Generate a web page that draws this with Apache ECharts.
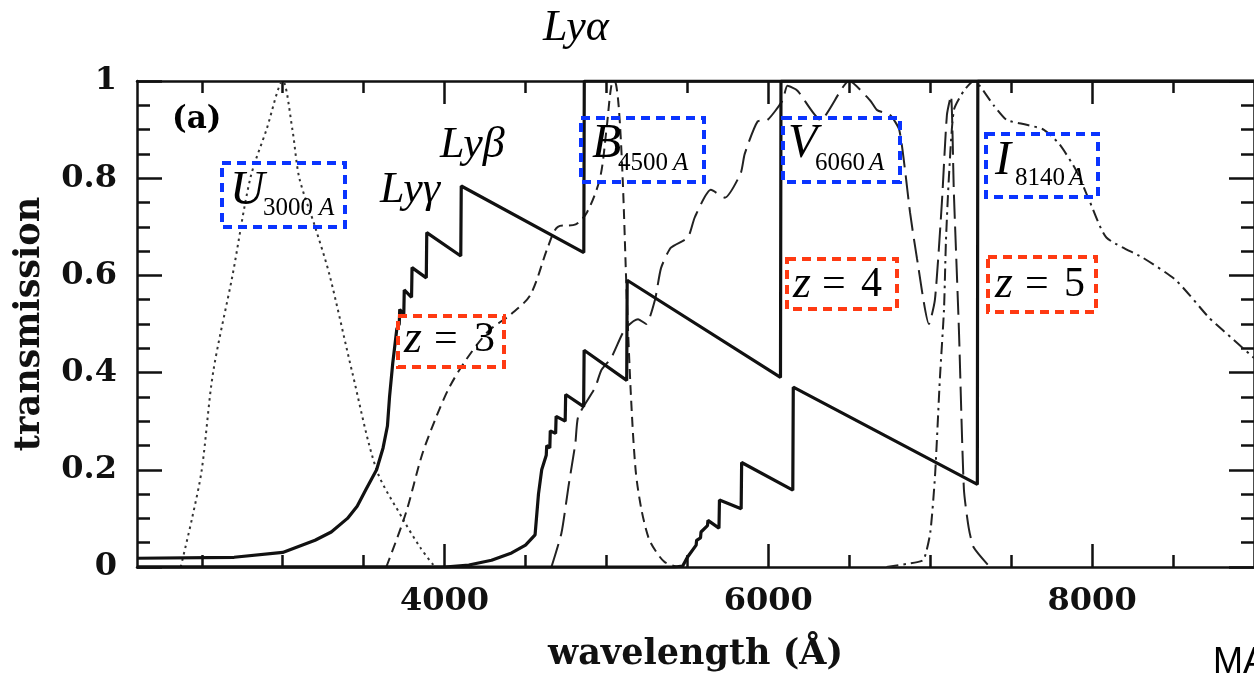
<!DOCTYPE html>
<html>
<head>
<meta charset="utf-8">
<script src="https://cdn.jsdelivr.net/npm/echarts@6/dist/echarts.min.js"></script>
<style>
html,body{margin:0;padding:0;background:#fff;}
#chart{width:1254px;height:678px;}
</style>
</head>
<body>
<div id="chart"></div>
<script>
// tick values
var xMajorTicks = [4000, 6000, 8000];
var xMinorTicks = [2500, 3000, 3500, 4500, 5000, 5500, 6500, 7000, 7500, 8500];

// filter curves [wavelength, transmission]
var uFilter = [[2370,0],[2440,0.1],[2500,0.2],[2570,0.4],[2690,0.6],[2800,0.8],[2900,0.9],[3000,1.0],[3060,0.9],[3103,0.8],[3200,0.7],[3290,0.6],[3430,0.4],[3580,0.2],[3740,0.1],[3850,0.04],[3940,0]];
var bFilter = [[3640,0],[3760,0.11],[3860,0.23],[3950,0.31],[4030,0.37],[4130,0.425],[4270,0.485],[4410,0.52],[4530,0.56],[4640,0.66],[4700,0.7],[4810,0.705],[4880,0.73],[4960,0.8],[5000,0.9],[5030,0.99],[5050,1.0],[5075,0.95],[5100,0.8],[5125,0.56],[5150,0.36],[5180,0.2],[5215,0.12],[5260,0.06],[5300,0.035],[5360,0.01],[5440,0]];
var vFilter = [[4660,0],[4722,0.07],[4765,0.165],[4808,0.255],[4826,0.31],[4931,0.37],[4968,0.405],[5029,0.43],[5115,0.49],[5195,0.51],[5245,0.5],[5300,0.55],[5337,0.615],[5398,0.657],[5503,0.678],[5546,0.72],[5645,0.776],[5731,0.76],[5829,0.81],[5854,0.85],[5934,0.917],[5995,0.92],[6088,0.96],[6118,0.99],[6180,0.98],[6322,0.92],[6500,1.0],[6629,0.96],[6672,0.94],[6752,0.93],[6808,0.9],[6845,0.815],[6875,0.73],[6918,0.635],[6992,0.5],[7029,0.55],[7072,0.75],[7103,0.93],[7128,0.97],[7146,0.77],[7177,0.49],[7208,0.16],[7238,0.08],[7269,0.04],[7368,0]];
var iFilter = [[6730,0],[6920,0.01],[6960,0.015],[7000,0.07],[7030,0.19],[7060,0.39],[7085,0.53],[7097,0.67],[7115,0.8],[7146,0.94],[7208,0.98],[7270,1.0],[7306,0.99],[7392,0.95],[7472,0.92],[7595,0.91],[7700,0.9],[7798,0.87],[7903,0.815],[7983,0.754],[8088,0.678],[8315,0.636],[8518,0.59],[8722,0.513],[8808,0.487],[9000,0.43]];

// IGM transmission for the three redshifts
var igmZ3 = [[2100,0.018],[2700,0.02],[3000,0.03],[3200,0.055],[3300,0.072],[3400,0.1],[3460,0.125],[3515,0.16],[3580,0.2],[3620,0.245],[3647,0.29],[3660,0.35],[3680,0.42],[3705,0.49],[3720,0.5],[3723,0.53],[3748,0.52],[3751,0.57],[3796,0.555],[3799,0.616],[3887,0.595],[3890,0.688],[4100,0.64],[4103,0.784],[4860,0.647],[4863,1.0],[9000,1.0]];
var igmZ4 = [[2100,0],[4000,0],[4150,0.004],[4290,0.014],[4414,0.029],[4500,0.045],[4559,0.066],[4580,0.15],[4600,0.2],[4628,0.23],[4631,0.25],[4650,0.245],[4653,0.28],[4686,0.275],[4689,0.31],[4745,0.3],[4748,0.355],[4859,0.33],[4862,0.446],[5125,0.384],[5128,0.59],[6075,0.39],[6078,1.0],[9000,1.0]];
var igmZ5 = [[2100,0],[5420,0],[5471,0.002],[5500,0.02],[5554,0.045],[5557,0.055],[5581,0.06],[5584,0.072],[5624,0.085],[5627,0.096],[5695,0.08],[5698,0.138],[5832,0.12],[5835,0.215],[6151,0.158],[6154,0.37],[7291,0.17],[7294,1.0],[9000,1.0]];

var ink = '#111';
var serifBold = '"DejaVu Serif", serif';
var times = '"Liberation Serif", "Times New Roman", serif';

var myChart = echarts.init(document.getElementById('chart'));

function xAx(pos, ticks, len, withLabel, withLine) {
    var ax = {
        type: 'value', min: 2100, max: 9000, position: pos,
        splitLine: {show: false},
        axisLine: {show: withLine, onZero: false, lineStyle: {color: ink, width: 2.5}},
        axisTick: {show: true, inside: true, length: len, customValues: ticks, lineStyle: {color: ink, width: 2.5}},
        axisLabel: {show: withLabel, customValues: ticks, margin: 19, color: ink, fontFamily: serifBold, fontWeight: 'bold', fontSize: 32,
            formatter: function (v) { return String(v); }}
    };
    if (withLabel) {
        ax.name = 'wavelength (Å)';
        ax.nameLocation = 'middle';
        ax.nameGap = 70;
        ax.nameTextStyle = {color: ink, fontFamily: serifBold, fontWeight: 'bold', fontSize: 35};
    }
    return ax;
}
function yAx(pos, withLabel) {
    var ax = {
        type: 'value', min: 0, max: 1, interval: 0.2, position: pos,
        splitLine: {show: false},
        axisLine: {show: true, onZero: false, lineStyle: {color: ink, width: 2.5}},
        axisTick: {show: true, inside: true, length: 25, lineStyle: {color: ink, width: 2.5}},
        minorTick: {show: true, splitNumber: 4, length: 13, lineStyle: {color: ink, width: 2.5}},
        axisLabel: {show: withLabel, margin: 20, color: ink, fontFamily: serifBold, fontWeight: 'bold', fontSize: 32}
    };
    if (withLabel) {
        ax.name = 'transmission';
        ax.nameLocation = 'middle';
        ax.nameGap = 90;
        ax.nameTextStyle = {color: ink, fontFamily: serifBold, fontWeight: 'bold', fontSize: 35};
    }
    return ax;
}
function line(data, type, width, smooth, color) {
    return {
        type: 'line', data: data, xAxisIndex: 0, yAxisIndex: 0,
        showSymbol: false, smooth: smooth, silent: true,
        lineStyle: {color: color || ink, width: width, type: type}
    };
}
function box(x, y, w, h, color) {
    return {type: 'rect', shape: {x: x, y: y, width: w, height: h},
        style: {fill: 'none', stroke: color, lineWidth: 4, lineDash: [9, 6]}, z: 100};
}
function txt(s, x, y, font, va) {
    return {type: 'text', x: x, y: y, z: 101,
        style: {text: s, font: font, fill: '#000', align: 'left', verticalAlign: va || 'middle'}};
}

var blue = '#0a34ff', red = '#ff3a12';
var big = 'italic 48px ' + times, sub = '25px ' + times, subA = 'italic 25px ' + times;
var ly = 'italic 44px ' + times, zf = 'italic 46px ' + times, eq = '42px ' + times;

var option = {
    animation: false,
    backgroundColor: '#fff',
    grid: {left: 137, top: 81, right: -4, bottom: 111, containLabel: false},
    xAxis: [
        xAx('bottom', xMajorTicks, 23, true, true),
        xAx('bottom', xMinorTicks, 12, false, false),
        xAx('top', xMajorTicks, 23, false, true),
        xAx('top', xMinorTicks, 12, false, false)
    ],
    yAxis: [yAx('left', true), yAx('right', false)],
    series: [
        line(uFilter, [2.5, 4], 2, 0.3, '#333'),
        line(bFilter, [10, 6], 2, 0.3, '#222'),
        line(vFilter, [24, 8], 2, 0.2, '#222'),
        line(iFilter, [12, 5, 2.5, 5], 2, 0.2, '#222'),
        line(igmZ3, 'solid', 3.2, false),
        line(igmZ4, 'solid', 3.2, false),
        line(igmZ5, 'solid', 3.2, false)
    ],
    graphic: [
        txt('(a)', 172, 120, 'bold 31px ' + serifBold),
        txt('Lyα', 543, 28, ly),
        txt('Lyβ', 440, 145, ly),
        txt('Lyγ', 380, 190, ly),
        box(222, 163, 123, 64, blue),
        txt('U', 230, 191, big), txt('3000', 263, 208, sub), txt('A', 319, 208, subA),
        box(581, 118, 123, 64, blue),
        txt('B', 592, 144, big), txt('4500', 618, 163, sub), txt('A', 673, 163, subA),
        box(783, 118, 117, 64, blue),
        txt('V', 788, 144, big), txt('6060', 815, 163, sub), txt('A', 869, 163, subA),
        box(986, 134, 112, 63, blue),
        txt('I', 995, 161, big), txt('8140', 1015, 178, sub), txt('A', 1069, 178, subA),
        box(398, 316, 106, 51, red),
        txt('z', 404, 340, zf), txt('=', 434, 340, eq), txt('3', 474, 340, eq),
        box(787, 259, 110, 50, red),
        txt('z', 793, 285, zf), txt('=', 822, 285, eq), txt('4', 861, 285, eq),
        box(988, 257, 108, 55, red),
        txt('z', 995, 285, zf), txt('=', 1025, 285, eq), txt('5', 1064, 285, eq),
        txt('MA', 1213, 645, '36px "Liberation Sans", Arial, sans-serif', 'top')
    ]
};
myChart.setOption(option);
</script>
</body>
</html>
